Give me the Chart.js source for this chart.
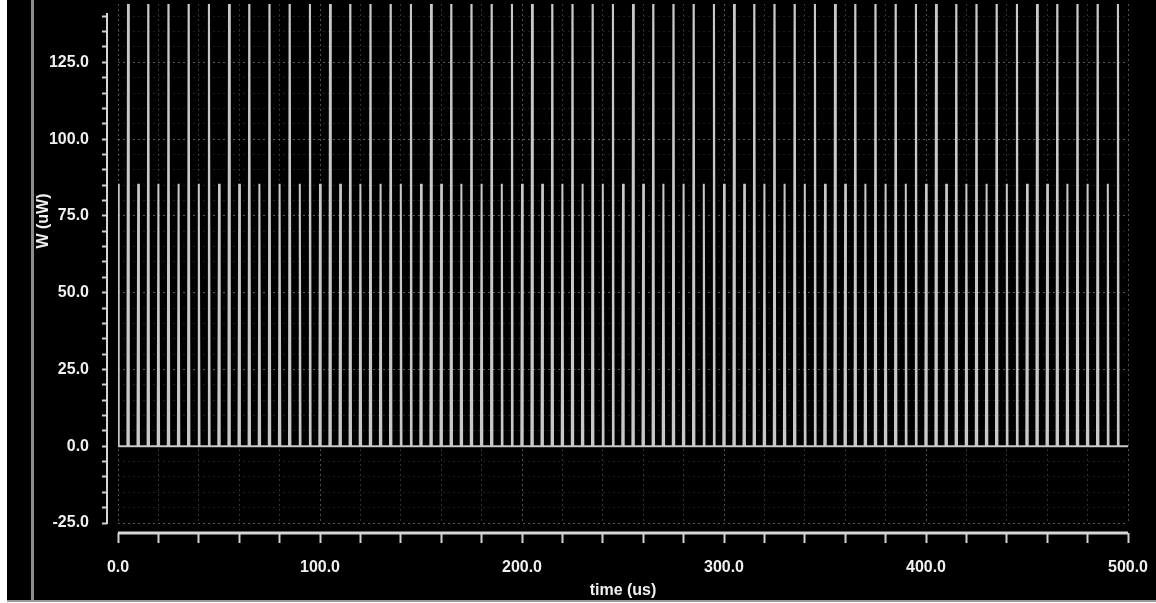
<!DOCTYPE html>
<html>
<head>
<meta charset="utf-8">
<title>W (uW) vs time</title>
<script src="https://cdn.jsdelivr.net/npm/chart.js@4"></script>
<style>
  html, body { margin: 0; background: #fff; }
  #frame { position: absolute; left: 7px; top: 0; width: 1149px; height: 600px; background: #000; border-bottom: 2px solid #9a9a9a; }
  #rule { position: absolute; left: 24px; top: 0; width: 3px; height: 600px; background: #8c8c8c; }
  #plot { position: absolute; left: 0; top: 0; width: 1149px; height: 600px; }
</style>
</head>
<body>
<div id="frame">
  <div id="rule"></div>
  <canvas id="plot" width="1149" height="600"></canvas>
</div>
<script>
// pulse times in us
const shortTimes = [0, 10, 20, 30, 40, 50, 60, 70, 80, 90, 100, 110, 120, 130, 140, 150, 160, 170, 180, 190,
  200, 210, 220, 230, 240, 250, 260, 270, 280, 290, 300, 310, 320, 330, 340, 350, 360, 370, 380, 390,
  400, 410, 420, 430, 440, 450, 460, 470, 480, 490];
const tallTimes = [5, 15, 25, 35, 45, 55, 65, 75, 85, 95, 105, 115, 125, 135, 145, 155, 165, 175, 185, 195,
  205, 215, 225, 235, 245, 255, 265, 275, 285, 295, 305, 315, 325, 335, 345, 355, 365, 375, 385, 395,
  405, 415, 425, 435, 445, 455, 465, 475, 485, 495];
// pulse heights in uW (tall ones run off the top)
const shortPeak = 85.5;
const tallPeak = 170;

const xLabels = [0, 100, 200, 300, 400, 500];
const yLabels = [-25, 0, 25, 50, 75, 100, 125];

const FONT = '"Liberation Sans", Arial, sans-serif';
const halfWidth = 0.35;

// build the waveform: flat at 0 with a narrow pulse at each time
const pulses = shortTimes.map(t => [t, shortPeak])
  .concat(tallTimes.map(t => [t, tallPeak]))
  .sort((a, b) => a[0] - b[0]);
const trace = [];
pulses.forEach(([t, peak]) => {
  trace.push({ x: t - halfWidth, y: 0 }, { x: t, y: peak }, { x: t + halfWidth, y: 0 });
});
trace.push({ x: 500, y: 0 });

// axis lines sit off the plot edges, plus the rotated y title
const axisFrame = {
  id: 'axisFrame',
  afterDraw(chart) {
    const { ctx, chartArea, scales } = chart;
    ctx.save();
    ctx.strokeStyle = '#d6d6d6';
    ctx.lineWidth = 2;
    ctx.beginPath();
    ctx.moveTo(chartArea.left - 11, chartArea.top + 9);
    ctx.lineTo(chartArea.left - 11, scales.y.getPixelForValue(-25) + 1);
    ctx.stroke();

    ctx.lineWidth = 3;
    const yAxis = chartArea.bottom + 10;
    ctx.beginPath();
    ctx.moveTo(scales.x.getPixelForValue(0), yAxis);
    ctx.lineTo(scales.x.getPixelForValue(500), yAxis);
    ctx.stroke();

    ctx.translate(37, 221);
    ctx.rotate(-Math.PI / 2);
    ctx.fillStyle = '#f0f0f0';
    ctx.font = 'bold 16px ' + FONT;
    ctx.textAlign = 'center';
    ctx.textBaseline = 'middle';
    ctx.fillText('W (uW)', 0, 0);
    ctx.restore();
  }
};

// drop the label overhang padding so the plot fills its box
const noOverhang = s => {
  s.paddingTop = 0;
  s.paddingBottom = 0;
  s.paddingLeft = 0;
  s.paddingRight = 0;
};

new Chart(document.getElementById('plot'), {
  type: 'line',
  data: {
    datasets: [{
      data: trace,
      borderColor: '#c8c8c8',
      borderWidth: 2,
      pointRadius: 0,
      tension: 0,
      fill: false
    }]
  },
  options: {
    responsive: false,
    animation: false,
    devicePixelRatio: 1,
    layout: { padding: { top: 4, right: 28, left: 0, bottom: 0 } },
    plugins: {
      legend: { display: false },
      tooltip: { enabled: false }
    },
    scales: {
      x: {
        type: 'linear',
        min: 0,
        max: 500,
        afterFit: s => { s.height = 77; noOverhang(s); },
        border: { display: false, dash: [2, 3] },
        grid: {
          color: c => c.tick && c.tick.value % 100 === 0 ? 'rgba(200,200,200,0.4)' : 'rgba(200,200,200,0.25)',
          lineWidth: 1,
          tickLength: 20,
          tickColor: '#d0d0d0',
          tickWidth: 2,
          tickBorderDash: [0, 10, 10, 10]
        },
        ticks: {
          stepSize: 20,
          maxTicksLimit: 100,
          includeBounds: false,
          autoSkip: false,
          maxRotation: 0,
          padding: 15,
          color: '#f0f0f0',
          font: { family: FONT, size: 16, weight: 'bold' },
          callback: v => xLabels.includes(v) ? v.toFixed(1) : ''
        },
        title: {
          display: true,
          text: 'time (us)',
          color: '#f0f0f0',
          font: { family: FONT, size: 16, weight: 'bold' },
          padding: 0
        }
      },
      y: {
        min: -25,
        max: 144,
        afterFit: s => { s.width = 111; noOverhang(s); },
        border: { display: false, dash: [2, 3] },
        grid: {
          color: c => c.tick && c.tick.value % 25 === 0 ? 'rgba(200,200,200,0.45)' : 'rgba(200,200,200,0.15)',
          lineWidth: 1,
          tickLength: 16,
          tickColor: '#d0d0d0',
          tickWidth: 2,
          tickBorderDash: [5, 20]
        },
        ticks: {
          stepSize: 5,
          maxTicksLimit: 100,
          includeBounds: false,
          autoSkip: false,
          padding: 13,
          color: '#f0f0f0',
          font: { family: FONT, size: 16, weight: 'bold' },
          callback: v => yLabels.includes(v) ? v.toFixed(1) : ''
        }
      }
    }
  },
  plugins: [axisFrame]
});
</script>
</body>
</html>
